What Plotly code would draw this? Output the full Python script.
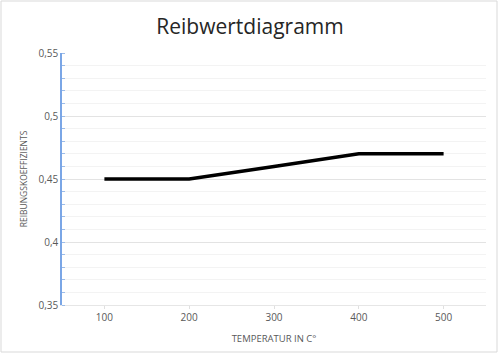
import plotly.graph_objects as go

temperatures = [100, 200, 300, 400, 500]
coefficients = [0.45, 0.45, 0.46, 0.47, 0.47]
x_tick_labels = ["100", "200", "300", "400", "500"]
y_tick_vals = [0.35, 0.4, 0.45, 0.5, 0.55]
y_tick_labels = ["0,35", "0,4", "0,45", "0,5", "0,55"]

W, H = 500, 357
L, R, T, B = 62, 14, 53, 52
pw, ph = W - L - R, H - T - B

fig = go.Figure()
fig.add_trace(go.Scatter(
    x=temperatures, y=coefficients, mode="lines",
    line=dict(color="black", width=3.5), showlegend=False,
))

font_family = "Open Sans"
fig.update_layout(
    width=W, height=H,
    margin=dict(l=L, r=R, t=T, b=B),
    paper_bgcolor="white", plot_bgcolor="white",
    title=dict(text="Reibwertdiagramm", x=0.5, xanchor="center", y=1 - 27 / H, yanchor="middle",
               font=dict(family=font_family, size=21, color="#262626")),
    font=dict(family=font_family, color="#595959"),
    xaxis=dict(
        range=[50, 550], tickmode="array", tickvals=temperatures, ticktext=x_tick_labels,
        showgrid=False, zeroline=False, showline=True, linecolor="#e6e6e6", linewidth=1,
        ticks="outside", ticklen=3, tickcolor="#e0e0e0",
        tickfont=dict(size=10, color="#595959"),
        title=dict(text="TEMPERATUR IN C°", font=dict(size=9.5, color="#595959"), standoff=12),
    ),
    yaxis=dict(
        range=[0.35, 0.55], tickmode="array", tickvals=y_tick_vals, ticktext=y_tick_labels,
        showgrid=True, gridcolor="#e3e3e3", gridwidth=1, zeroline=False,
        showline=True, linecolor="#7aa6e6", linewidth=1.5,
        ticks="", tickfont=dict(size=10, color="#595959"),
        minor=dict(dtick=0.01, showgrid=True, gridcolor="#f3f3f3", gridwidth=1,
                   ticks="inside", ticklen=3, tickcolor="#9bbbe8"),
        title=dict(text="REIBUNGSKOEFFIZIENTS", font=dict(size=8.5, color="#595959"), standoff=10),
    ),
    shapes=[dict(
        type="rect", xref="paper", yref="paper",
        x0=(1 - L) / pw, x1=(497 - L) / pw,
        y0=(H - B - 352) / ph, y1=(H - B - 1) / ph,
        line=dict(color="#d9d9d9", width=1), fillcolor="rgba(0,0,0,0)", layer="below",
    )],
)

fig.write_html("out.html")
